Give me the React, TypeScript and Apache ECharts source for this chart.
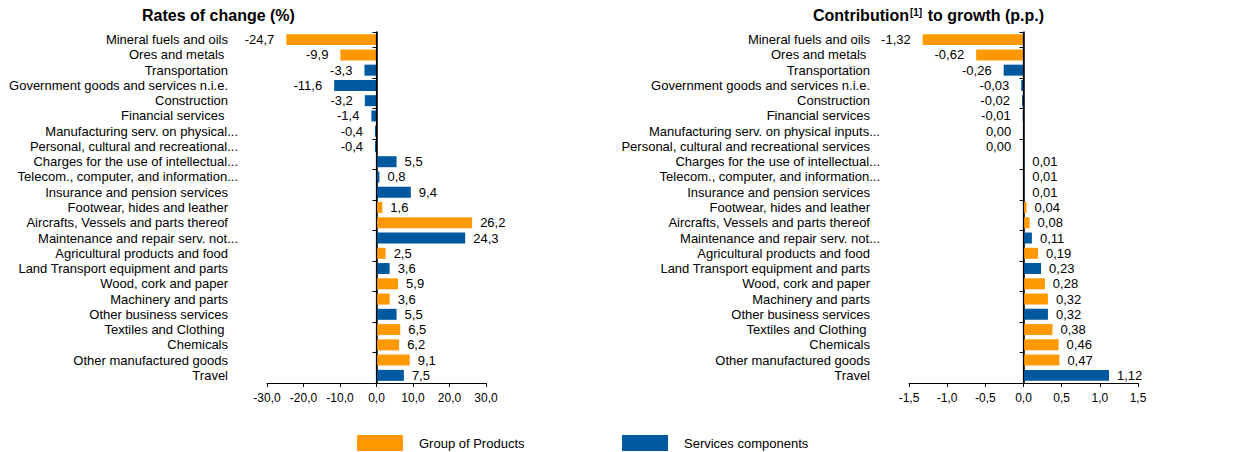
import React, { useEffect, useRef } from 'react';
import * as echarts from 'echarts';

const categoriesLeft = [
  'Mineral fuels and oils',
  'Ores and metals ',
  'Transportation',
  'Government goods and services n.i.e.',
  'Construction',
  'Financial services ',
  'Manufacturing serv. on physical...',
  'Personal, cultural and recreational...',
  'Charges for the use of intellectual...',
  'Telecom., computer, and information...',
  'Insurance and pension services',
  'Footwear, hides and leather',
  'Aircrafts, Vessels and parts thereof',
  'Maintenance and repair serv. not...',
  'Agricultural products and food',
  'Land Transport equipment and parts',
  'Wood, cork and paper',
  'Machinery and parts',
  'Other business services',
  'Textiles and Clothing ',
  'Chemicals',
  'Other manufactured goods',
  'Travel',
];

const categoriesRight = [
  'Mineral fuels and oils',
  'Ores and metals ',
  'Transportation',
  'Government goods and services n.i.e.',
  'Construction',
  'Financial services',
  'Manufacturing serv. on physical inputs...',
  'Personal, cultural and recreational services',
  'Charges for the use of intellectual...',
  'Telecom., computer, and information...',
  'Insurance and pension services',
  'Footwear, hides and leather',
  'Aircrafts, Vessels and parts thereof',
  'Maintenance and repair serv. not...',
  'Agricultural products and food',
  'Land Transport equipment and parts',
  'Wood, cork and paper',
  'Machinery and parts',
  'Other business services',
  'Textiles and Clothing ',
  'Chemicals',
  'Other manufactured goods',
  'Travel',
];

// P = Group of Products, S = Services components
const groupType = [
  'P', 'P', 'S', 'S', 'S', 'S', 'S', 'S', 'S', 'S', 'S', 'P',
  'P', 'S', 'P', 'S', 'P', 'P', 'S', 'P', 'P', 'P', 'S',
];

const ratesOfChange = [
  -24.7, -9.9, -3.3, -11.6, -3.2, -1.4, -0.4, -0.4, 5.5, 0.8, 9.4, 1.6,
  26.2, 24.3, 2.5, 3.6, 5.9, 3.6, 5.5, 6.5, 6.2, 9.1, 7.5,
];

const contributions = [
  -1.32, -0.62, -0.26, -0.03, -0.02, -0.01, -0.004, -0.004, 0.01, 0.01, 0.01, 0.04,
  0.08, 0.11, 0.19, 0.23, 0.28, 0.32, 0.32, 0.38, 0.46, 0.47, 1.12,
];

const leftAxis = { min: -30, max: 30, interval: 10, decimals: 1 };
const rightAxis = { min: -1.5, max: 1.5, interval: 0.5, decimals: 2 };

const PRODUCTS = 'Group of Products';
const SERVICES = 'Services components';
const ORANGE = '#FF9900';
const BLUE = '#00599E';
const FONT = '"Liberation Sans", Arial, sans-serif';

const fmt = (v: number, d: number) => {
  let s = v.toFixed(d);
  if (Number(s) === 0) s = (0).toFixed(d);
  return s.replace('.', ',');
};

function buildSeries(values: number[], type: string) {
  return values.map((v, i) => {
    if (groupType[i] !== type) return '-';
    const neg = v < 0;
    return {
      value: v,
      label: {
        position: neg ? 'left' : 'right',
        distance: neg ? 12 : 8,
      },
    };
  });
}

export default function App() {
  const ref = useRef<HTMLDivElement>(null);

  useEffect(() => {
    document.body.style.margin = '0';
    const chart = echarts.init(ref.current!, undefined, { renderer: 'svg' });

    const grids = [
      { left: 267, width: 219, top: 32, height: 351, outerBoundsMode: 'none', containLabel: false },
      { left: 909, width: 229, top: 32, height: 351, outerBoundsMode: 'none', containLabel: false },
    ];
    const axisDefs = [leftAxis, rightAxis];

    const catLabel = (v: string) => (v.endsWith('...') ? `{e|${v}}` : `{n|${v}}`);
    const richLabel = {
      n: { fontSize: 13, fontFamily: FONT, color: '#000', padding: [0, 10, 0, 0] },
      e: { fontSize: 13, fontFamily: FONT, color: '#000' },
    };

    const yAxes: any[] = [];
    [categoriesLeft, categoriesRight].forEach((cats, gi) => {
      // category labels at the left of the plot
      yAxes.push({
        show: true,
        type: 'category',
        gridIndex: gi,
        data: cats,
        inverse: true,
        position: 'left',
        axisLine: { show: false, onZero: false },
        axisTick: { show: false },
        axisLabel: { margin: 29, interval: 0, formatter: catLabel, rich: richLabel },
      });
      // zero line with ticks, moved from the grid's left edge to the value 0
      const ax = axisDefs[gi];
      const zeroShift = (grids[gi].width * (0 - ax.min)) / (ax.max - ax.min);
      yAxes.push({
        show: true,
        type: 'category',
        gridIndex: gi,
        data: cats,
        position: 'left',
        offset: -zeroShift,
        axisLine: { show: true, onZero: false, lineStyle: { color: '#000', width: 1.5 } },
        axisTick: { show: true, length: 4, lineStyle: { color: '#000', width: 1 } },
        axisLabel: { show: false },
      });
    });

    const xAxes: any[] = axisDefs.map((ax, gi) => ({
      show: true,
      type: 'value',
      gridIndex: gi,
      min: ax.min,
      max: ax.max,
      interval: ax.interval,
      splitLine: { show: false },
      axisLine: { show: true, onZero: false, lineStyle: { color: '#000', width: 1 } },
      axisTick: { show: true, length: 4, lineStyle: { color: '#000' } },
      axisLabel: {
        fontSize: 12,
        fontFamily: FONT,
        color: '#000',
        margin: 9,
        formatter: (v: number) => fmt(v, 1),
      },
    }));

    const series: any[] = [];
    [
      { values: ratesOfChange, d: leftAxis.decimals },
      { values: contributions, d: rightAxis.decimals },
    ].forEach((c, gi) => {
      [
        { name: PRODUCTS, type: 'P', color: ORANGE },
        { name: SERVICES, type: 'S', color: BLUE },
      ].forEach((s, si) => {
        series.push({
          type: 'bar',
          name: s.name,
          xAxisIndex: gi,
          yAxisIndex: gi * 2,
          data: buildSeries(c.values, s.type),
          barGap: '-100%',
          barCategoryGap: '28%',
          itemStyle: { color: s.color },
          label: {
            show: true,
            fontSize: 13,
            fontFamily: FONT,
            color: '#000',
            formatter: (p: any) => fmt(p.value, c.d),
          },
          markLine:
            si === 0
              ? {
                  silent: true,
                  symbol: ['none', 'none'],
                  label: { show: false },
                  lineStyle: { color: '#000', width: 1.2, type: 'solid' },
                  emphasis: { disabled: true },
                  data: [{ xAxis: 0 }],
                }
              : undefined,
        });
      });
    });

    chart.setOption({
      animation: false,
      title: [
        {
          text: 'Rates of change (%)',
          left: 142,
          top: 7,
          padding: 0,
          textStyle: { fontSize: 16, fontWeight: 'bold', fontFamily: FONT, color: '#000' },
        },
        {
          text: '{b|Contribution}{s|[1]}{b| to growth (p.p.)}',
          left: 813,
          top: 7,
          padding: 0,
          textStyle: {
            rich: {
              b: { fontSize: 16, fontWeight: 'bold', fontFamily: FONT, color: '#000' },
              s: { fontSize: 10, fontWeight: 'bold', fontFamily: FONT, color: '#000', padding: [0, 1, 6, 1] },
            },
          },
        },
      ],
      legend: [
        {
          data: [PRODUCTS],
          left: 357,
          top: 435,
          padding: 0,
          icon: 'rect',
          itemWidth: 46,
          itemHeight: 16,
          selectedMode: false,
          textStyle: { fontSize: 13, fontFamily: FONT, color: '#000', padding: [0, 0, 0, 11] },
        },
        {
          data: [SERVICES],
          left: 622,
          top: 435,
          padding: 0,
          icon: 'rect',
          itemWidth: 46,
          itemHeight: 16,
          selectedMode: false,
          textStyle: { fontSize: 13, fontFamily: FONT, color: '#000', padding: [0, 0, 0, 11] },
        },
      ],
      grid: grids,
      xAxis: xAxes,
      yAxis: yAxes,
      series,
    });

    return () => chart.dispose();
  }, []);

  return <div ref={ref} style={{ width: 1259, height: 452 }} />;
}
